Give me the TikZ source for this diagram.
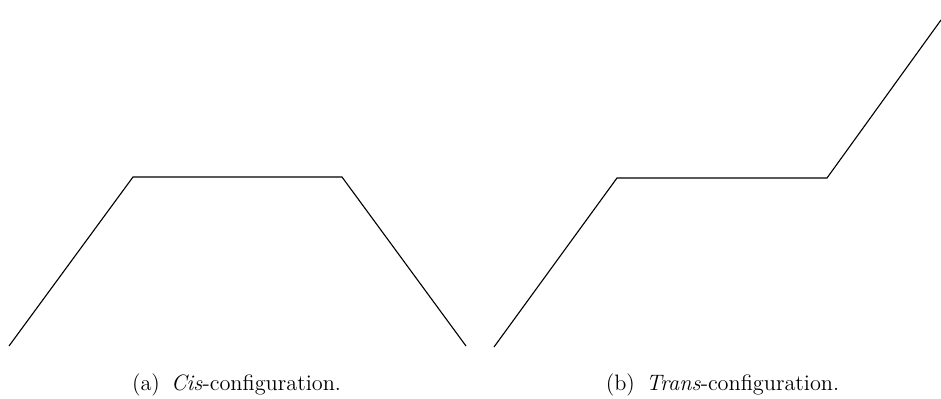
\documentclass[tikz,border=0pt]{standalone}
\usetikzlibrary{positioning}
\tikzset{
  bond/.style={line width=0.6pt, black},
  subcap/.style={font=\large, inner sep=0pt, anchor=base},
}
\begin{document}
\begin{tikzpicture}[x=0.0189cm,y=-0.0189cm]
  \useasboundingbox (0,0) rectangle (941,399);
  % ====== (a) cis ======
  \coordinate (ca1) at (9,346);
  \coordinate (ca2) at (133,177);
  \coordinate (ca3) at (342,177);
  \coordinate (ca4) at (466,346);
  \draw[bond] (ca1) -- (ca2) -- (ca3) -- (ca4);
  \node[subcap] (capa) at (236.5,391) {(a)\enskip\textit{Cis}-configuration.};
  % ====== (b) trans ======
  \coordinate (tr1) at (494,347);
  \coordinate (tr2) at (617,178);
  \coordinate (tr3) at (827,178);
  \coordinate (tr4) at (941,20);
  \draw[bond] (tr1) -- (tr2) -- (tr3) -- (tr4);
  \node[subcap] (capb) at (722.5,391) {(b)\enskip\textit{Trans}-configuration.};
\end{tikzpicture}
\end{document}
